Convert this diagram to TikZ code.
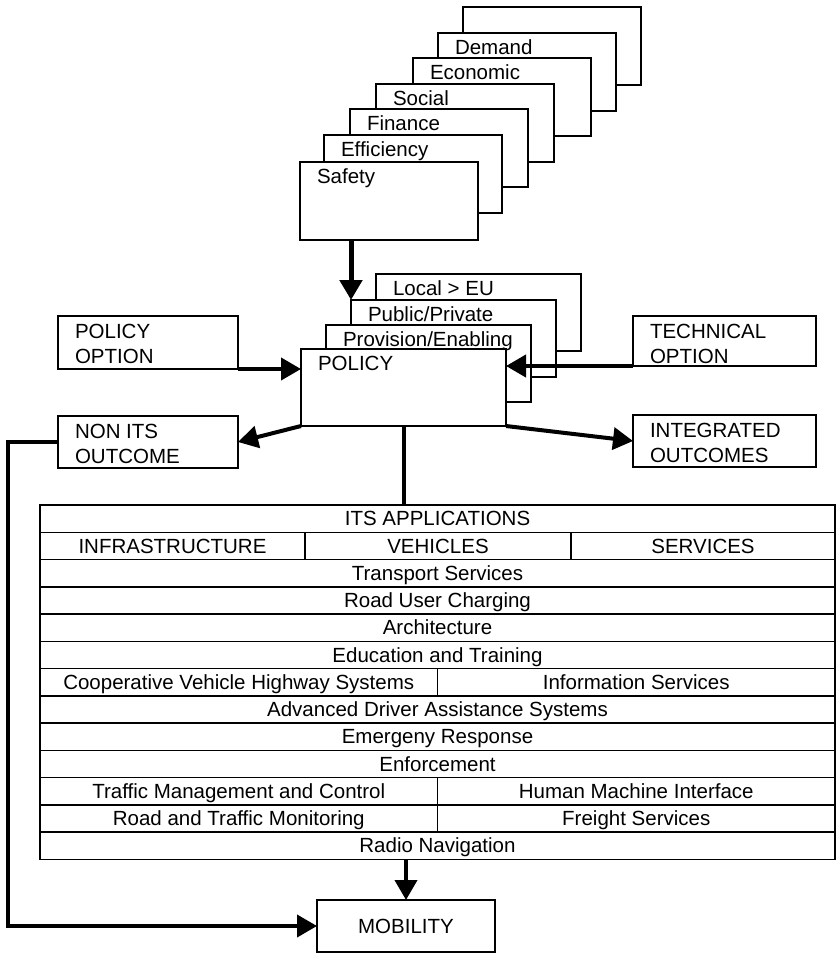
\documentclass[tikz,border=0pt]{standalone}
\usepackage{fontspec}
\setmainfont{Liberation Sans}
\usetikzlibrary{arrows.meta}

\begin{document}
\begin{tikzpicture}
  [x=1pt, y=-1pt,
   every node/.style = {draw, fill=white, line width=1.5pt, inner sep=0pt, outer sep=0pt,
                        anchor=north west, font=\fontsize{20.5}{25}\selectfont},
   txt/.style = {draw=none, fill=none, anchor=base west, xshift=17pt},
   card/.style = {minimum width=178pt, minimum height=78pt,
                  label={[txt, yshift=-21pt]north west:#1}},
   pcard/.style = {minimum width=205pt, minimum height=77pt,
                   label={[txt, yshift=-21pt]north west:#1}},
   opt/.style n args = {3}{minimum width=#1, minimum height=52pt,
                   label={[txt, yshift=-22pt]north west:#2},
                   label={[txt, yshift=-47pt]north west:#3}},
   row/.style = {minimum width=795pt, minimum height=27.25pt, text height=14.7pt, text depth=0pt},
   half/.style = {row, minimum width=397.5pt},
   third/.style = {row, minimum width=265pt},
   flow/.style = {line width=4pt, -{Triangle[length=20pt, width=22pt]}}]

  % assessment criteria, back to front
  \node (blank) [card=] at (463,7) {};
  \node (demand) [card=Demand] at (438,33) {};
  \node (econ) [card=Economic] at (413,58) {};
  \node (social) [card=Social] at (376,84) {};
  \node (finance) [card=Finance] at (350,109) {};
  \node (effic) [card=Efficiency] at (324,135) {};
  \node (safety) [card=Safety] at (300,162) {};

  % policy stack
  \node (local) [pcard=Local > EU] at (376,274) {};
  \node (pubpriv) [pcard=Public/Private] at (351,300) {};
  \node (provis) [pcard=Provision/Enabling] at (326,325) {};
  \node (policy) [pcard=POLICY] at (301,349) {};

  \node (polopt) [opt={180pt}{POLICY}{OPTION}, minimum height=53pt] at (58,316) {};
  \node (techopt) [opt={183pt}{TECHNICAL}{OPTION}, minimum height=50pt] at (633,316) {};
  \node (nonits) [opt={180pt}{NON ITS}{OUTCOME}] at (58,416) {};
  \node (integ) [opt={183pt}{INTEGRATED}{OUTCOMES}] at (633,415) {};

  % ITS applications
  \node (its) [row] at (40,505) {ITS APPLICATIONS};
  \node (infra) [third] at (its.south west) {INFRASTRUCTURE};
  \node (veh) [third, minimum width=266pt] at (infra.north east) {VEHICLES};
  \node (serv) [third, minimum width=264pt] at (veh.north east) {SERVICES};
  \node (trans) [row] at (infra.south west) {Transport Services};
  \node (charge) [row] at (trans.south west) {Road User Charging};
  \node (arch) [row] at (charge.south west) {Architecture};
  \node (edu) [row] at (arch.south west) {Education and Training};
  \node (coop) [half] at (edu.south west) {Cooperative Vehicle Highway Systems};
  \node (info) [half] at (coop.north east) {Information Services};
  \node (adas) [row] at (coop.south west) {Advanced Driver Assistance Systems};
  \node (emerg) [row] at (adas.south west) {Emergeny Response};
  \node (enforce) [row] at (emerg.south west) {Enforcement};
  \node (traffic) [half] at (enforce.south west) {Traffic Management and Control};
  \node (hmi) [half] at (traffic.north east) {Human Machine Interface};
  \node (monitor) [half] at (traffic.south west) {Road and Traffic Monitoring};
  \node (freight) [half] at (monitor.north east) {Freight Services};
  \node (radio) [row] at (monitor.south west) {Radio Navigation};

  \node (mobility) [minimum width=178pt, minimum height=52pt] at (317,900) {MOBILITY};

  \coordinate (corner) at (8,926);

  \draw [flow, line width=5pt] (safety.south -| pubpriv.north west) -- (pubpriv.north west);
  \draw [flow] (polopt.south east) -- (polopt.south east -| policy.west);
  \draw [flow] (techopt.south west) -- (techopt.south west -| policy.east);
  \draw [flow] (policy.south west) -- (nonits.east);
  \draw [flow] (policy.south east) -- (integ.west);
  \draw [line width=4pt] (policy.south) -- (policy.south |- its.north);
  \draw [flow] (radio.south -| mobility.north) -- (mobility.north);
  \draw [flow] (nonits.west) -- (nonits.west -| corner) -- (corner) -- (mobility.west);

  \useasboundingbox (0,0) rectangle (836,953);
\end{tikzpicture}
\end{document}
